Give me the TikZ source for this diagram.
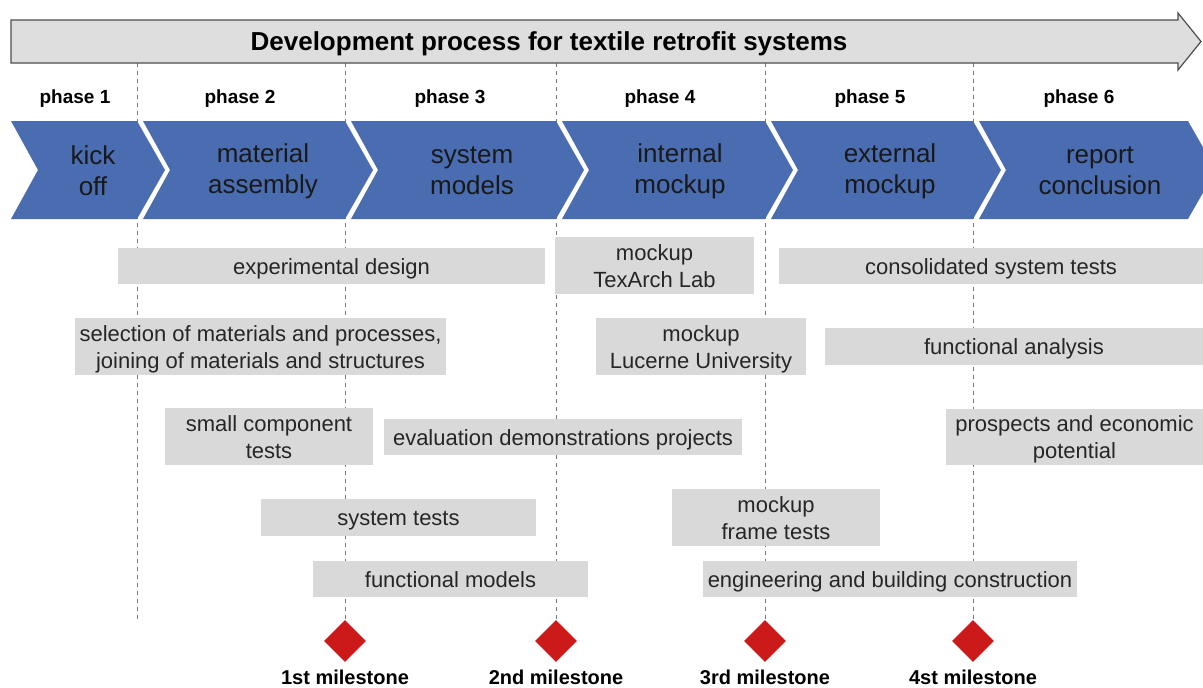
\documentclass[tikz,border=0pt]{standalone}
\usepackage{fontspec}
\setmainfont{Liberation Sans}
\usetikzlibrary{shapes.geometric}

\definecolor{chevblue}{HTML}{4A6CB0}
\definecolor{taskgray}{HTML}{D9D9D9}
\definecolor{arrowgray}{HTML}{DEDEDE}
\definecolor{arrowline}{HTML}{4D4D4D}
\definecolor{msred}{HTML}{CC1A1A}
\definecolor{gridgray}{HTML}{777777}

\newcommand{\tstrut}{\rule[-5pt]{0pt}{26.5pt}}

\begin{document}
\begin{tikzpicture}[x=1pt, y=-1pt,
every node/.style={align=center, inner sep=0pt},
task/.style={fill=taskgray, text=black!85, font=\fontsize{22}{27}\selectfont},
phase/.style={font=\fontsize{19}{22}\selectfont\bfseries},
chevtext/.style={text=black!90, font=\fontsize{26}{31}\selectfont},
milestone/.style={diamond, fill=msred, minimum width=42pt, minimum height=42pt},
mslabel/.style={font=\fontsize{20}{24}\selectfont\bfseries},
gridline/.style={gridgray, line width=1pt, dash pattern=on 4pt off 4pt}
]
\useasboundingbox (0,0) rectangle (1203,688);

% Milestones and dashed lines
\coordinate (g0) at (137,63);
\coordinate (g0end) at (137,620);
\draw[gridline] (g0) -- (g0end);
\foreach \x/\n/\t in {345/1/1st, 556/2/2nd, 765/3/3rd, 973/4/4st} {
  \coordinate (g\n) at (\x,63);
  \node[milestone] (ms\n) at (\x,641) {};
  \node[mslabel] (msl\n) at (\x,677) {\t\ milestone};
  \draw[gridline] (g\n) -- (ms\n.north);
}

% Top arrow
\draw[fill=arrowgray, draw=arrowline, line width=1.2pt]
  (11,20) -- (1178,20) -- (1178,13) -- (1201,41.5) -- (1178,70) -- (1178,63) -- (11,63) -- cycle;
\node[font=\fontsize{26}{30}\selectfont\bfseries] (title) at (549,44)
{Development process for textile retrofit systems};

% Phase row
\foreach \x/\n in {75/1, 240/2, 450/3, 660/4, 870/5, 1079/6}
  \node[phase] (phase\n) at (\x,99) {phase \n};

% Chevrons
\foreach \l/\r in {11/137, 143/345, 351/556, 562/765, 771/973, 979/1188}
  \fill[chevblue] (\l,121) -- (\r,121) -- (\r+28,170) -- (\r,219) -- (\l,219) -- (\l+27,170) -- cycle;

\node[chevtext] (kickoff) at (93,171) {kick\\off};
\node[chevtext] (material) at (263,171) {material\\assembly};
\node[chevtext] (models) at (472,171) {system\\models};
\node[chevtext] (intmockup) at (680,171) {internal\\mockup};
\node[chevtext] (extmockup) at (890,171) {external\\mockup};
\node[chevtext] (report) at (1100,171) {report\\conclusion};

% Tasks left
\node[task, minimum width=427pt, minimum height=36pt] (expdesign) at (331.5,266)
{\tstrut experimental design};
\node[task, minimum width=371pt, minimum height=57pt] (selection) at (260.5,346.5)
{\tstrut selection of materials and processes,\\\tstrut joining of materials and structures};
\node[task, minimum width=208pt, minimum height=57pt] (smallcomp) at (269,436.5)
{\tstrut small component\\\tstrut tests};
\node[task, minimum width=358pt, minimum height=36pt] (evaluation) at (563,437)
{\tstrut evaluation demonstrations projects};
\node[task, minimum width=275pt, minimum height=37pt] (systests) at (398.5,517.5)
{\tstrut system tests};
\node[task, minimum width=275pt, minimum height=36pt] (funcmodels) at (450.5,579)
{\tstrut functional models};

% Tasks right
\node[task, minimum width=199pt, minimum height=57pt] (texarch) at (654.5,265.5)
{\tstrut mockup\\\tstrut TexArch Lab};
\node[task, minimum width=210pt, minimum height=57pt] (lucerne) at (701,346.5)
{\tstrut mockup\\\tstrut Lucerne University};
\node[task, minimum width=208pt, minimum height=57pt] (frametests) at (776,517.5)
{\tstrut mockup\\\tstrut frame tests};
\node[task, minimum width=374pt, minimum height=36pt] (engineering) at (890,579)
{\tstrut engineering and building construction};
\node[task, minimum width=424pt, minimum height=36pt] (consolidated) at (991,266)
{\tstrut consolidated system tests};
\node[task, minimum width=378pt, minimum height=37pt] (funcanalysis) at (1014,346.5)
{\tstrut functional analysis};
\node[task, minimum width=257pt, minimum height=56pt] (prospects) at (1074.5,437)
{\tstrut prospects and economic\\\tstrut potential};

\end{tikzpicture}
\end{document}
